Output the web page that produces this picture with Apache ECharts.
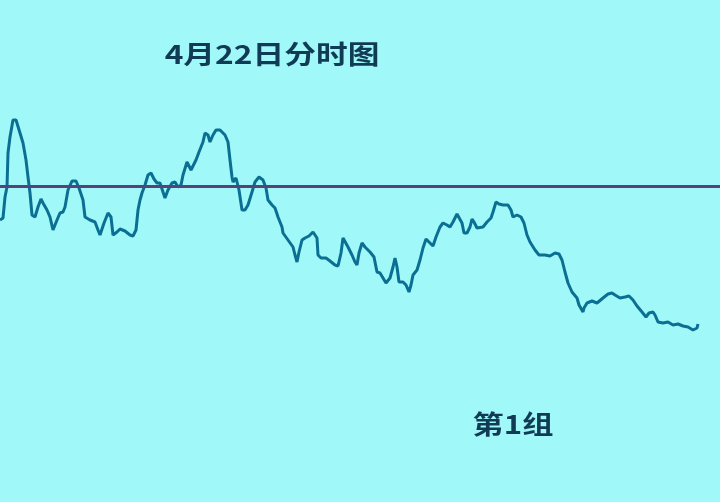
<!DOCTYPE html>
<html>
<head>
<meta charset="utf-8">
<script src="https://cdn.jsdelivr.net/npm/echarts@6/dist/echarts.min.js"></script>
<style>
html,body{margin:0;padding:0;background:#a0f8f8;}
#chart{width:720px;height:502px;}
</style>
</head>
<body>
<div id="chart"></div>
<script>
// Time since the open, in seconds
var times = [0,60,100,140,160,200,260,320,400,460,520,560,600,640,700,760,820,860,940,1000,1060,1140,1200,1260,1300,1360,1440,1520,1580,1660,1700,1800,1900,1960,2000,2080,2160,2220,2260,2340,2400,2500,2600,2660,2720,2760,2800,2840,2900,2960,3020,3080,3140,3200,3260,3300,3360,3440,3500,3560,3620,3660,3740,3780,3820,3860,3920,3980,4060,4100,4160,4200,4260,4320,4400,4500,4560,4600,4640,4660,4720,4740,4780,4840,4900,4960,5040,5100,5180,5260,5320,5360,5440,5500,5560,5640,5660,5760,5860,5900,5940,5980,6040,6100,6180,6260,6300,6340,6360,6420,6520,6600,6700,6760,6820,6860,6900,6960,7040,7100,7140,7180,7240,7300,7400,7480,7540,7600,7660,7720,7800,7860,7900,7940,7980,8060,8120,8180,8220,8260,8340,8400,8460,8520,8580,8660,8720,8800,8860,8940,9000,9060,9140,9180,9240,9280,9340,9400,9440,9480,9540,9580,9660,9740,9820,9860,9920,9980,10060,10160,10220,10260,10340,10420,10480,10540,10600,10700,10780,10900,11000,11100,11180,11240,11300,11360,11440,11540,11580,11660,11680,11740,11840,11940,12060,12160,12240,12300,12400,12500,12580,12660,12740,12840,12920,12980,13060,13100,13160,13260,13360,13460,13560,13660,13760,13860,13940,13960];
var prices = [9.66,9.68,9.89,9.99,10.33,10.49,10.66,10.66,10.53,10.43,10.26,10.09,9.93,9.71,9.69,9.79,9.87,9.83,9.76,9.69,9.56,9.66,9.73,9.74,9.79,9.96,10.05,10.05,9.98,9.86,9.69,9.66,9.64,9.56,9.51,9.63,9.73,9.69,9.51,9.54,9.57,9.55,9.51,9.50,9.56,9.76,9.86,9.93,10.01,10.11,10.13,10.07,10.03,10.03,9.94,9.88,9.96,10.03,10.04,9.99,10.01,10.11,10.24,10.26,10.16,10.14,10.26,10.34,10.44,10.53,10.51,10.44,10.51,10.56,10.56,10.51,10.44,10.26,10.09,10.04,10.08,10.09,9.96,9.76,9.76,9.81,9.94,10.04,10.09,10.06,9.98,9.86,9.81,9.78,9.69,9.59,9.53,9.46,9.39,9.31,9.24,9.34,9.46,9.48,9.50,9.54,9.56,9.48,9.31,9.28,9.28,9.25,9.21,9.20,9.33,9.48,9.46,9.39,9.31,9.24,9.21,9.33,9.43,9.39,9.34,9.29,9.14,9.13,9.08,9.03,9.08,9.19,9.28,9.19,9.04,9.04,9.01,8.94,9.01,9.11,9.16,9.26,9.38,9.47,9.44,9.40,9.49,9.59,9.63,9.61,9.59,9.64,9.72,9.74,9.63,9.53,9.53,9.59,9.67,9.64,9.58,9.57,9.59,9.64,9.68,9.74,9.84,9.82,9.81,9.81,9.76,9.69,9.71,9.69,9.63,9.51,9.44,9.36,9.31,9.31,9.30,9.33,9.32,9.26,9.14,9.03,8.94,8.88,8.81,8.74,8.78,8.83,8.85,8.83,8.88,8.92,8.93,8.91,8.88,8.89,8.90,8.86,8.80,8.74,8.69,8.73,8.74,8.71,8.64,8.63,8.64,8.61,8.62,8.60,8.59,8.56,8.58,8.62];
var prevClose = 10.00;
var titleText = '4月22日分时图';
var groupText = '第1组';

var seriesData = times.map(function (t, i) { return [t, prices[i]]; });

var chart = echarts.init(document.getElementById('chart'), null, {renderer: 'canvas'});
chart.setOption({
  backgroundColor: '#a0f8f8',
  animation: false,
  grid: {left: 0, right: 0, top: 100, bottom: 102},
  xAxis: {type: 'value', min: 0, max: 14400, show: false},
  yAxis: {type: 'value', min: 7.86, max: 10.86, show: false},
  series: [{
    type: 'line',
    data: seriesData,
    showSymbol: false,
    lineStyle: {color: '#0b6f93', width: 3},
    markLine: {
      silent: true,
      symbol: 'none',
      label: {show: false},
      lineStyle: {color: '#5b4079', width: 3, type: 'solid'},
      data: [{yAxis: prevClose}]
    }
  }],
  graphic: [
    {type: 'text', x: 272, y: 54, scaleX: 1.22,
     style: {text: titleText, fill: '#113a55', font: 'bold 26px "Noto Sans CJK SC"', textAlign: 'center', textVerticalAlign: 'middle'}},
    {type: 'text', x: 513, y: 424, scaleX: 1.2,
     style: {text: groupText, fill: '#113a55', font: 'bold 26px "Noto Sans CJK SC"', textAlign: 'center', textVerticalAlign: 'middle'}}
  ]
});
</script>
</body>
</html>
